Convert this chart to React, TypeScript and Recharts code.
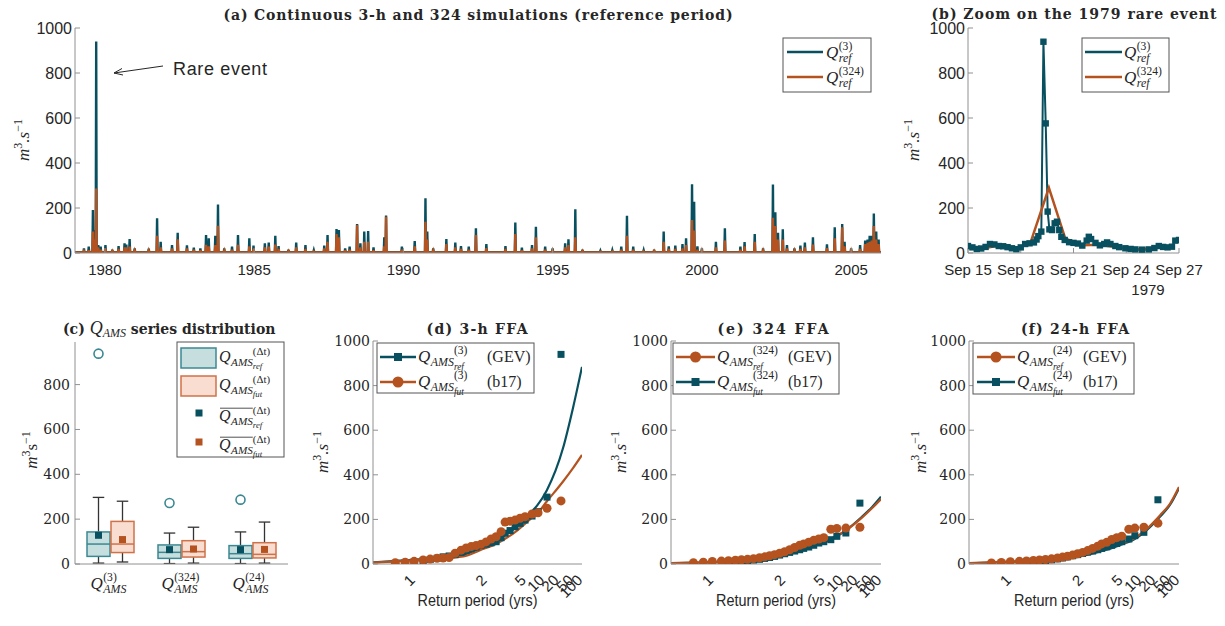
import React from 'react';
import { LineChart, Line, XAxis, YAxis, ComposedChart, Bar, Scatter } from 'recharts';

const TEAL = '#08505f';
const ORANGE = '#b4531f';
const TEAL_BOX = '#c7dedf';
const TEAL_EDGE = '#3b8893';
const ORANGE_BOX = '#f8ddd0';
const ORANGE_EDGE = '#cf7248';
const FRAME = '#909090';
const INK = '#262626';
const SANS = '"Liberation Sans", Arial, sans-serif';
const SERIF = '"DejaVu Serif", serif';
const MATH = '"Liberation Serif", "DejaVu Serif", serif';

// (a) continuous simulations: peaks (decimal year, m3/s)
const aEventYear = [
  1979.3, 1979.46, 1979.6, 1979.66, 1979.71, 1979.78, 1979.86,
  1980.02, 1980.25, 1980.46, 1980.66, 1980.72, 1980.83,
  1981.0, 1981.47, 1981.75, 1981.87,
  1982.25, 1982.44, 1982.75, 1982.98,
  1983.2, 1983.39, 1983.48, 1983.7, 1983.79,
  1984.0, 1984.26, 1984.46, 1984.84, 1984.98,
  1985.36, 1985.49, 1985.71, 1985.82,
  1986.15, 1986.41, 1986.72,
  1987.0, 1987.35, 1987.46, 1987.76, 1987.84,
  1988.05, 1988.2, 1988.45, 1988.56, 1988.69, 1988.82,
  1989.0, 1989.36, 1989.42, 1989.95,
  1990.38, 1990.74, 1990.8,
  1991.0, 1991.44, 1991.74, 1991.93,
  1992.19, 1992.43, 1992.78,
  1993.42, 1993.75, 1993.97,
  1994.31, 1994.44, 1994.75,
  1995.0, 1995.42, 1995.53, 1995.76,
  1996.0, 1996.6,
  1997.0, 1997.3, 1997.49, 1997.7,
  1998.05, 1998.4, 1998.72, 1998.89,
  1999.11, 1999.35, 1999.47, 1999.67, 1999.74, 1999.85,
  2000.0, 2000.47, 2000.77,
  2001.29, 2001.43, 2001.77,
  2002.05, 2002.38, 2002.46, 2002.55, 2002.71, 2002.85,
  2003.1, 2003.3, 2003.45, 2003.72,
  2004.19, 2004.45, 2004.7, 2004.78,
  2005.0, 2005.3, 2005.47, 2005.55, 2005.62, 2005.69, 2005.76, 2005.84, 2005.92,
];
const aPeak3 = [
  20, 28, 191, 102, 940, 35, 28,
  35, 15, 31, 43, 38, 62,
  20, 19, 154, 50,
  35, 90, 34, 24,
  20, 80, 65, 76, 216,
  20, 28, 80, 65, 33,
  43, 46, 77, 31,
  15, 46, 35,
  12, 33, 80, 107, 102,
  20, 28, 129, 43, 95, 98,
  25, 70, 167, 28,
  53, 243, 95,
  20, 62, 46, 31,
  28, 110, 40,
  31, 135, 24,
  35, 117, 28,
  20, 43, 61, 194,
  15, 10,
  12, 28, 166, 28,
  12, 15, 95, 30,
  33, 40, 65, 305, 228, 30,
  20, 50, 110,
  28, 49, 84,
  20, 304, 181, 90, 105, 35,
  20, 33, 46, 70,
  39, 114, 129, 50,
  20, 35, 55, 60, 76, 76, 176, 95, 60,
];
const aPeak324 = [
  8, 12, 95, 60, 287, 25, 15,
  20, 8, 18, 25, 25, 28,
  10, 10, 77, 25,
  20, 61, 20, 15,
  12, 36, 30, 35, 121,
  10, 15, 36, 30, 18,
  25, 28, 38, 18,
  8, 25, 18,
  6, 20, 50, 84, 70,
  12, 15, 124, 25, 50, 50,
  12, 30, 161, 15,
  30, 139, 60,
  10, 40, 25, 18,
  15, 80, 22,
  18, 84, 12,
  20, 70, 15,
  10, 25, 35, 70,
  8, 5,
  6, 15, 76, 15,
  6, 8, 50, 18,
  18, 20, 35, 147, 100, 15,
  10, 25, 55,
  15, 30, 50,
  10, 157, 120, 60, 60, 20,
  10, 18, 25, 38,
  22, 65, 114, 30,
  10, 18, 40, 45, 50, 55, 120, 60, 40,
];
const aBase3 = 4;
const aBase324 = 3;
const aYearTicks = [1980, 1985, 1990, 1995, 2000, 2005];
const qTicks = [0, 200, 400, 600, 800, 1000];

// (b) zoom on the September 1979 event (day of month)
const bDay3 = [
  15.0, 15.25, 15.5, 15.75, 16.0, 16.25, 16.5, 16.75, 17.0, 17.25, 17.5, 17.75, 18.0, 18.25, 18.5, 18.75,
  18.9, 19.0, 19.17, 19.29, 19.42, 19.53, 19.63, 19.78, 19.93, 20.06, 20.19, 20.31,
  20.5, 20.75, 21.0, 21.25, 21.5, 21.75, 21.87, 22.0, 22.25, 22.5, 22.75, 22.91,
  23.1, 23.38, 23.6, 23.95, 24.25, 24.52, 24.9, 25.28, 25.6, 25.85, 26.1, 26.35, 26.6, 26.79, 27.0,
];
const bQ3 = [
  31, 25, 18, 20, 27, 40, 38, 31, 30, 26, 21, 17, 25, 40, 43, 47,
  60, 75, 95, 939, 576, 184, 105, 102, 132, 139, 102, 72,
  58, 48, 45, 42, 33, 55, 72, 62, 45, 34, 40, 47,
  40, 31, 26, 21, 18, 16, 15, 16, 22, 31, 27, 25, 28, 55, 58,
];
const bDay324 = [15.61, 16.56, 17.6, 18.54, 19.6, 20.53, 21.49, 22.44, 23.38, 24.52, 25.47, 26.51];
const bQ324 = [16, 31, 16, 43, 290, 65, 34, 37, 27, 16, 21, 31];
const bDayTicks = [15, 18, 21, 24, 27];

// (c) Q_AMS box plot summaries
const boxGroups = ['(3)', '(324)', '(24)'];
const refLow = [4, 2, 2];
const refQ1 = [34, 25, 25];
const refMed = [89, 52, 46];
const refQ3 = [143, 85, 82];
const refHigh = [297, 138, 143];
const refOut = [938, 272, 287];
const refMean = [128, 64, 64];
const futLow = [9, 4, 4];
const futQ1 = [51, 31, 27];
const futMed = [89, 55, 43];
const futQ3 = [190, 104, 95];
const futHigh = [280, 164, 187];
const futMean = [109, 67, 65];
const boxTicks = [0, 200, 400, 600, 800];

// (d)-(f) frequency analysis: return periods (yrs) and discharges
const ffaTicks = [1, 2, 5, 10, 20, 50, 100];
const ffaTMin = 0.862;
const ffaTMax = 105;
const ffaPointT = [
  0.923, 0.96, 1.001, 1.051, 1.098, 1.152, 1.207, 1.271, 1.345, 1.432, 1.517, 1.614, 1.727, 1.859,
  2.014, 2.197, 2.414, 2.675, 2.923, 3.293, 3.749, 4.316, 5.031, 6.376, 7.997, 11.75, 24.3,
];
const ffaCurveT = [0.862, 0.93, 1.1, 1.47, 1.83, 2.46, 3.96, 5.94, 7.69, 11.6, 27.4, 52.6, 105];

const dRefPts = [2, 4, 8, 14, 20, 26, 32, 36, 42, 52, 60, 68, 76, 84, 89, 95, 100, 118, 138, 150, 167, 182, 197, 215, 235, 300, 940];
const dFutPts = [6, 8, 12, 18, 22, 26, 27, 29, 48, 62, 72, 78, 83, 89, 99, 112, 122, 145, 188, 192, 197, 205, 212, 224, 230, 250, 283];
const dRefGev = [7, 14, 25, 42, 70, 105, 170, 228, 262, 330, 520, 700, 884];
const dFutB17 = [7, 12, 22, 34, 62, 92, 150, 200, 225, 280, 370, 430, 489];

const eRefPts = [6, 8, 11, 13, 15, 17, 19, 21, 24, 28, 32, 37, 42, 48, 55, 64, 74, 84, 90, 98, 106, 112, 118, 156, 159, 161, 165];
const eFutPts = [1, 3, 5, 7, 9, 11, 13, 15, 18, 21, 25, 29, 34, 40, 46, 52, 58, 64, 70, 76, 84, 94, 100, 109, 124, 139, 273];
const eRefGev = [4, 7, 12, 26, 40, 62, 90, 110, 125, 150, 208, 250, 291];
const eFutB17 = [3, 5, 10, 22, 36, 56, 84, 106, 122, 150, 212, 255, 302];

const fRefPts = [5, 7, 10, 12, 14, 16, 18, 20, 23, 27, 31, 35, 40, 46, 52, 60, 70, 80, 90, 97, 110, 118, 125, 156, 161, 165, 183];
const fFutPts = [1, 3, 5, 7, 9, 11, 13, 16, 19, 23, 27, 32, 37, 42, 47, 53, 58, 64, 70, 77, 84, 92, 100, 112, 127, 142, 288];
const fRefGev = [4, 8, 15, 25, 34, 52, 79, 100, 114, 145, 218, 270, 345];
const fFutB17 = [3, 6, 12, 22, 31, 48, 74, 96, 110, 140, 212, 265, 340];

// probability-paper style axis used by the FFA panels
const ffaX = (T: number) => Math.log(Math.log(T) + 0.3);
const ffaT = (x: number) => Math.exp(Math.exp(x) - 0.3);

const measureCtx = typeof document !== 'undefined' ? document.createElement('canvas').getContext('2d') : null;
function textWidth(text: string, size: number, italic = true) {
  if (!measureCtx) return text.length * size * 0.5;
  measureCtx.font = `${italic ? 'italic ' : ''}${size}px ${MATH}`;
  return measureCtx.measureText(text).width;
}

function spikes(years: number[], peaks: number[], base: number) {
  const pts: { t: number; q: number }[] = [{ t: 1979, q: base }];
  years.forEach((yr, i) => {
    pts.push({ t: yr - 0.016, q: base }, { t: yr, q: peaks[i] }, { t: yr + 0.016, q: base });
  });
  pts.push({ t: 2006, q: base });
  return pts;
}

const sansTick = (size: number) => ({ fill: INK, fontSize: size, fontFamily: SANS });
const serifTick = { fill: INK, fontSize: 14, fontFamily: SERIF };

type MathProps = {
  x: number; y: number; fs?: number; sup?: string; sub?: string; subsub?: string;
  supAfterSub?: boolean; bar?: boolean;
};

function MathQ({ x, y, fs = 17, sup, sub, subsub, supAfterSub = false, bar = false }: MathProps) {
  const qW = textWidth('Q', fs) + 0.5;
  const subFs = fs * 0.7;
  const subsubFs = fs * 0.55;
  const supFs = fs * 0.68;
  const subW = sub ? textWidth(sub, subFs) : 0;
  const supX = x + qW + (supAfterSub ? subW : 0);
  return (
    <g fill={INK} fontFamily={MATH}>
      <text x={x} y={y} fontStyle="italic" fontSize={fs}>Q</text>
      {sub && <text x={x + qW} y={y + fs * 0.25} fontStyle="italic" fontSize={subFs}>{sub}</text>}
      {subsub && <text x={x + qW + subW} y={y + fs * 0.45} fontStyle="italic" fontSize={subsubFs}>{subsub}</text>}
      {sup && <text x={supX} y={y - fs * 0.45} fontSize={supFs}>{sup}</text>}
      {bar && <line x1={x + 1} x2={x + qW + subW} y1={y - fs * 0.8} y2={y - fs * 0.8} stroke={INK} strokeWidth={0.8} />}
    </g>
  );
}

function UnitLabel({ x, y, dot = true }: { x: number; y: number; dot?: boolean }) {
  return (
    <text transform={`translate(${x},${y}) rotate(-90)`} textAnchor="middle" fontFamily={MATH} fontSize={17} fill={INK}>
      <tspan fontStyle="italic">m</tspan>
      <tspan fontSize={12} dy={-7}>3</tspan>
      <tspan dy={7} fontStyle={dot ? 'italic' : 'normal'}>{dot ? '.s' : 's'}</tspan>
      <tspan fontSize={12} dy={-7}>−1</tspan>
    </text>
  );
}

function LegendSwatch({ x1, x2, y, color, marker }: { x1: number; x2: number; y: number; color: string; marker?: 'square' | 'circle' }) {
  const cx = (x1 + x2) / 2;
  return (
    <g>
      <line x1={x1} x2={x2} y1={y} y2={y} stroke={color} strokeWidth={2.5} />
      {marker === 'square' && <rect x={cx - 4} y={y - 4} width={8} height={8} fill={color} />}
      {marker === 'circle' && <circle cx={cx} cy={y} r={5.5} fill={color} />}
    </g>
  );
}

function PanelA() {
  const w = 806, h = 225;
  return (
    <div style={{ position: 'absolute', left: 75 - 60, top: 28 - 10 }}>
      <LineChart width={60 + w + 10} height={10 + h + 30} margin={{ top: 10, right: 10, bottom: 0, left: 0 }}>
        <XAxis dataKey="t" type="number" domain={[1979, 2006]} ticks={aYearTicks} allowDataOverflow interval={0}
          height={30} stroke={FRAME} tickSize={-5} tickMargin={16} tick={sansTick(15)} />
        <XAxis xAxisId="top" orientation="top" type="number" domain={[1979, 2006]} ticks={aYearTicks} allowDataOverflow
          interval={0} height={0} stroke={FRAME} tickSize={-5} tick={false} />
        <YAxis type="number" domain={[0, 1000]} ticks={qTicks} allowDataOverflow interval={0} width={60}
          stroke={FRAME} tickSize={-5} tickMargin={8} tick={sansTick(16)} />
        <YAxis yAxisId="right" orientation="right" type="number" domain={[0, 1000]} ticks={qTicks} allowDataOverflow
          interval={0} width={0} stroke={FRAME} tickSize={-5} tick={false} />
        <Line data={spikes(aEventYear, aPeak3, aBase3)} dataKey="q" stroke={TEAL} strokeWidth={2.4} dot={false} isAnimationActive={false} />
        <Line data={spikes(aEventYear, aPeak324, aBase324)} dataKey="q" stroke={ORANGE} strokeWidth={2.4} dot={false} isAnimationActive={false} />
      </LineChart>
    </div>
  );
}

function PanelB() {
  const w = 211, h = 225;
  const s3 = bDay3.map((t, i) => ({ t, q: bQ3[i] }));
  const s324 = bDay324.map((t, i) => ({ t, q: bQ324[i] }));
  return (
    <div style={{ position: 'absolute', left: 968 - 60, top: 28 - 10 }}>
      <LineChart width={60 + w + 30} height={10 + h + 30} margin={{ top: 10, right: 30, bottom: 0, left: 0 }}>
        <XAxis dataKey="t" type="number" domain={[15, 27]} ticks={bDayTicks} allowDataOverflow interval={0}
          height={30} stroke={FRAME} tickSize={-5} tickMargin={16} tick={sansTick(15)} tickFormatter={(v) => `Sep ${v}`} />
        <XAxis xAxisId="top" orientation="top" type="number" domain={[15, 27]} ticks={bDayTicks} allowDataOverflow
          interval={0} height={0} stroke={FRAME} tickSize={-4} tick={false} />
        <YAxis type="number" domain={[0, 1000]} ticks={qTicks} allowDataOverflow interval={0} width={60}
          stroke={FRAME} tickSize={-5} tickMargin={8} tick={sansTick(16)} />
        <YAxis yAxisId="right" orientation="right" type="number" domain={[0, 1000]} ticks={qTicks} allowDataOverflow
          interval={0} width={0} stroke={FRAME} tickSize={-5} tick={false} />
        <Line data={s3} dataKey="q" stroke={TEAL} strokeWidth={2} isAnimationActive={false}
          dot={(p: any) => <rect key={`b3-${p.index}`} x={p.cx - 3.2} y={p.cy - 3.2} width={6.4} height={6.4} fill={TEAL} />} />
        <Line data={s324} dataKey="q" stroke={ORANGE} strokeWidth={2.5} dot={false} isAnimationActive={false} />
      </LineChart>
    </div>
  );
}

function BoxShape(props: any) {
  const { x, y, width, height, payload, kind } = props;
  const i = payload.i;
  const ref = kind === 'ref';
  const lo = ref ? refLow[i] : futLow[i];
  const q1 = ref ? refQ1[i] : futQ1[i];
  const med = ref ? refMed[i] : futMed[i];
  const q3 = ref ? refQ3[i] : futQ3[i];
  const hi = ref ? refHigh[i] : futHigh[i];
  const top = Math.min(y, y + height);
  const bottom = Math.max(y, y + height);
  const py = (v: number) => bottom - ((bottom - top) * (v - lo)) / (hi - lo);
  const cx = x + width / 2;
  const cap = width / 4;
  const edge = ref ? TEAL_EDGE : ORANGE_EDGE;
  return (
    <g>
      <line x1={cx} x2={cx} y1={py(hi)} y2={py(q3)} stroke="#333" strokeWidth={1.3} />
      <line x1={cx} x2={cx} y1={py(q1)} y2={py(lo)} stroke="#333" strokeWidth={1.3} />
      <line x1={cx - cap} x2={cx + cap} y1={py(hi)} y2={py(hi)} stroke="#333" strokeWidth={1.3} />
      <line x1={cx - cap} x2={cx + cap} y1={py(lo)} y2={py(lo)} stroke="#333" strokeWidth={1.3} />
      <rect x={x} y={py(q3)} width={width} height={py(q1) - py(q3)} fill={ref ? TEAL_BOX : ORANGE_BOX} stroke={edge} strokeWidth={1.5} />
      <line x1={x} x2={x + width} y1={py(med)} y2={py(med)} stroke={edge} strokeWidth={1.5} />
    </g>
  );
}

function BoxTick({ x, y, payload }: any) {
  return <MathQ x={x - 20} y={y + 17} fs={17} sup={payload.value} sub="AMS" />;
}

function PanelC() {
  const w = 213, h = 222;
  const data = boxGroups.map((name, i) => ({
    name, i, ref: [refLow[i], refHigh[i]], fut: [futLow[i], futHigh[i]],
    refOut: refOut[i], refMean: refMean[i], futMean: futMean[i],
  }));
  const shift = 12;
  return (
    <div style={{ position: 'absolute', left: 75 - 60, top: 342 - 10 }}>
      <ComposedChart width={60 + w + 10} height={10 + h + 40} data={data} margin={{ top: 10, right: 10, bottom: 0, left: 0 }} barGap={1}>
        <XAxis dataKey="name" height={40} stroke={FRAME} tickLine={false} interval={0} tick={(p: any) => <BoxTick {...p} />} />
        <XAxis xAxisId="top" dataKey="name" orientation="top" height={0} stroke={FRAME} tickLine={false} tick={false} />
        <YAxis type="number" domain={[0, 990]} ticks={boxTicks} allowDataOverflow interval={0} width={60}
          stroke={FRAME} tickSize={-5} tickMargin={10} tick={serifTick} />
        <YAxis yAxisId="right" orientation="right" type="number" domain={[0, 990]} ticks={boxTicks} allowDataOverflow
          interval={0} width={0} stroke={FRAME} tickSize={-5} tick={false} />
        <Bar dataKey="ref" barSize={23} isAnimationActive={false} shape={(p: any) => <BoxShape {...p} kind="ref" />} />
        <Bar dataKey="fut" barSize={23} isAnimationActive={false} shape={(p: any) => <BoxShape {...p} kind="fut" />} />
        <Scatter dataKey="refOut" isAnimationActive={false}
          shape={(p: any) => <circle cx={p.cx - shift} cy={p.cy} r={4.5} fill="none" stroke={TEAL_EDGE} strokeWidth={1.6} />} />
        <Scatter dataKey="refMean" isAnimationActive={false}
          shape={(p: any) => <rect x={p.cx - shift - 3.5} y={p.cy - 3.5} width={7} height={7} fill={TEAL} />} />
        <Scatter dataKey="futMean" isAnimationActive={false}
          shape={(p: any) => <rect x={p.cx + shift - 3.5} y={p.cy - 3.5} width={7} height={7} fill={ORANGE} />} />
      </ComposedChart>
    </div>
  );
}

function RotTick({ x, y, payload }: any) {
  const label = Math.round(ffaT(payload.value));
  return (
    <text transform={`translate(${x + 2},${y + 17}) rotate(-45)`} textAnchor="end" fill={INK} fontSize={15} fontFamily={SANS}>
      {label}
    </text>
  );
}

type FfaProps = {
  left: number; width: number;
  tealCurve: number[]; orangeCurve: number[]; tealPts: number[]; orangePts: number[];
};

function FfaPanel({ left, width, tealCurve, orangeCurve, tealPts, orangePts }: FfaProps) {
  const h = 223;
  const xDomain = [ffaX(ffaTMin), ffaX(ffaTMax)];
  const mk = (Ts: number[], qs: number[]) => Ts.map((T, i) => ({ x: ffaX(T), q: qs[i] }));
  return (
    <div style={{ position: 'absolute', left: left - 60, top: 341 - 10 }}>
      <ComposedChart width={60 + width + 10} height={10 + h + 40} margin={{ top: 10, right: 10, bottom: 0, left: 0 }}>
        <XAxis dataKey="x" type="number" domain={xDomain} ticks={ffaTicks.map(ffaX)} allowDataOverflow interval={0}
          height={40} stroke={FRAME} tickLine={false} tickSize={0} tickMargin={0} tick={(p: any) => <RotTick {...p} />} />
        <XAxis xAxisId="top" orientation="top" type="number" domain={xDomain} allowDataOverflow height={0}
          stroke={FRAME} tickLine={false} tick={false} />
        <YAxis type="number" domain={[0, 1000]} ticks={qTicks} allowDataOverflow interval={0} width={60}
          stroke={FRAME} tickSize={-5} tickMargin={8} tick={serifTick} />
        <YAxis yAxisId="right" orientation="right" type="number" domain={[0, 1000]} ticks={qTicks} allowDataOverflow
          interval={0} width={0} stroke={FRAME} tickSize={-5} tick={false} />
        <Line data={mk(ffaCurveT, tealCurve)} dataKey="q" type="monotone" stroke={TEAL} strokeWidth={2.2} dot={false} isAnimationActive={false} />
        <Line data={mk(ffaCurveT, orangeCurve)} dataKey="q" type="monotone" stroke={ORANGE} strokeWidth={2.2} dot={false} isAnimationActive={false} />
        <Scatter data={mk(ffaPointT, tealPts)} dataKey="q" isAnimationActive={false}
          shape={(p: any) => <rect x={p.cx - 3.5} y={p.cy - 3.5} width={7} height={7} fill={TEAL} />} />
        <Scatter data={mk(ffaPointT, orangePts)} dataKey="q" isAnimationActive={false}
          shape={(p: any) => <circle cx={p.cx} cy={p.cy} r={4.5} fill={ORANGE} />} />
      </ComposedChart>
    </div>
  );
}

function Overlay() {
  const title = { fontFamily: SERIF, fontWeight: 'bold' as const, fontSize: 14, fill: INK };
  const box = { fill: '#fff', stroke: '#555', strokeWidth: 1 };
  return (
    <svg width={1225} height={626} style={{ position: 'absolute', left: 0, top: 0, pointerEvents: 'none' }}>
      {/* titles */}
      <text x={478} y={20} textAnchor="middle" textLength={509} lengthAdjust="spacing" {...title}>
        (a) Continuous 3-h and 324 simulations (reference period)
      </text>
      <text x={1074} y={19} textAnchor="middle" textLength={285} lengthAdjust="spacing" {...title}>
        (b) Zoom on the 1979 rare event
      </text>
      <text x={63} y={334} {...title}>
        (c){' '}
        <tspan fontFamily={MATH} fontStyle="italic" fontWeight="normal" fontSize={18}>Q</tspan>
        <tspan fontFamily={MATH} fontStyle="italic" fontWeight="normal" fontSize={12} dy={3}>AMS</tspan>
        <tspan dy={-3}> series distribution</tspan>
      </text>
      <text x={477} y={334} textAnchor="middle" textLength={101} lengthAdjust="spacing" {...title}>(d) 3-h FFA</text>
      <text x={773} y={334} textAnchor="middle" textLength={111} lengthAdjust="spacing" {...title}>(e) 324 FFA</text>
      <text x={1075} y={334} textAnchor="middle" textLength={108} lengthAdjust="spacing" {...title}>(f) 24-h FFA</text>

      {/* axis labels */}
      <UnitLabel x={29} y={140} />
      <UnitLabel x={919} y={140} />
      <UnitLabel x={37} y={450} dot={false} />
      <UnitLabel x={328} y={452} />
      <UnitLabel x={626} y={452} />
      <UnitLabel x={926} y={452} />
      {[477.5, 776, 1074].map((cx) => (
        <text key={cx} x={cx} y={606} textAnchor="middle" fontFamily={SANS} fontSize={17} fill={INK}
          textLength={120} lengthAdjust="spacingAndGlyphs">Return period (yrs)</text>
      ))}
      <text x={1148} y={295} textAnchor="middle" fontFamily={SANS} fontSize={15} fill={INK}>1979</text>

      {/* annotation */}
      <text x={173} y={75} fontFamily={SANS} fontSize={18} fill={INK} textLength={94} lengthAdjust="spacing">Rare event</text>
      <line x1={163} y1={66} x2={114} y2={73} stroke={INK} strokeWidth={1} />
      <path d="M 122 68.5 L 114 73 L 123 75" fill="none" stroke={INK} strokeWidth={1} />

      {/* legend (a) */}
      <rect x={783} y={38} width={88} height={54} {...box} />
      <LegendSwatch x1={787} x2={823} y={52} color={TEAL} />
      <LegendSwatch x1={787} x2={823} y={77} color={ORANGE} />
      <MathQ x={826} y={58} sup="(3)" sub="ref" />
      <MathQ x={826} y={83} sup="(324)" sub="ref" />

      {/* legend (b) */}
      <rect x={1082} y={38} width={87} height={54} {...box} />
      <LegendSwatch x1={1085} x2={1122} y={52} color={TEAL} />
      <LegendSwatch x1={1085} x2={1122} y={77} color={ORANGE} />
      <MathQ x={1124} y={58} sup="(3)" sub="ref" />
      <MathQ x={1124} y={83} sup="(324)" sub="ref" />

      {/* legend (c) */}
      <rect x={177} y={342} width={107} height={115} {...box} />
      <rect x={181} y={348} width={35} height={20} fill={TEAL_BOX} stroke={TEAL_EDGE} strokeWidth={1.5} />
      <rect x={181} y={376} width={35} height={20} fill={ORANGE_BOX} stroke={ORANGE_EDGE} strokeWidth={1.5} />
      <rect x={195.5} y={409.5} width={7} height={7} fill={TEAL} />
      <rect x={195.5} y={438.5} width={7} height={7} fill={ORANGE} />
      <MathQ x={219} y={362} fs={16} sub="AMS" subsub="ref" sup="(Δt)" supAfterSub />
      <MathQ x={219} y={390} fs={16} sub="AMS" subsub="fut" sup="(Δt)" supAfterSub />
      <MathQ x={219} y={421} fs={16} sub="AMS" subsub="ref" sup="(Δt)" supAfterSub bar />
      <MathQ x={219} y={450} fs={16} sub="AMS" subsub="fut" sup="(Δt)" supAfterSub bar />

      {/* legend (d) */}
      <rect x={377} y={343} width={157} height={50} {...box} />
      <LegendSwatch x1={380} x2={416} y={357} color={TEAL} marker="square" />
      <LegendSwatch x1={380} x2={416} y={382} color={ORANGE} marker="circle" />
      <MathQ x={418} y={362} sub="AMS" subsub="ref" sup="(3)" supAfterSub />
      <MathQ x={418} y={387} sub="AMS" subsub="fut" sup="(3)" supAfterSub />
      <text x={487} y={362} fontFamily={MATH} fontSize={16} fill={INK}>(GEV)</text>
      <text x={487} y={387} fontFamily={MATH} fontSize={16} fill={INK}>(b17)</text>

      {/* legend (e) */}
      <rect x={673} y={343} width={166} height={51} {...box} />
      <LegendSwatch x1={676} x2={715} y={357} color={ORANGE} marker="circle" />
      <LegendSwatch x1={676} x2={715} y={382} color={TEAL} marker="square" />
      <MathQ x={717} y={362} sub="AMS" subsub="ref" sup="(324)" supAfterSub />
      <MathQ x={717} y={387} sub="AMS" subsub="fut" sup="(324)" supAfterSub />
      <text x={788} y={362} fontFamily={MATH} fontSize={16} fill={INK}>(GEV)</text>
      <text x={788} y={387} fontFamily={MATH} fontSize={16} fill={INK}>(b17)</text>

      {/* legend (f) */}
      <rect x={973} y={343} width={161} height={51} {...box} />
      <LegendSwatch x1={977} x2={1015} y={357} color={ORANGE} marker="circle" />
      <LegendSwatch x1={977} x2={1015} y={382} color={TEAL} marker="square" />
      <MathQ x={1017} y={362} sub="AMS" subsub="ref" sup="(24)" supAfterSub />
      <MathQ x={1017} y={387} sub="AMS" subsub="fut" sup="(24)" supAfterSub />
      <text x={1083} y={362} fontFamily={MATH} fontSize={16} fill={INK}>(GEV)</text>
      <text x={1083} y={387} fontFamily={MATH} fontSize={16} fill={INK}>(b17)</text>
    </svg>
  );
}

export default function App() {
  return (
    <div style={{ position: 'absolute', left: 0, top: 0, width: 1225, height: 626, background: '#fff', overflow: 'hidden' }}>
      <PanelA />
      <PanelB />
      <PanelC />
      <FfaPanel left={373} width={209} tealCurve={dRefGev} orangeCurve={dFutB17} tealPts={dRefPts} orangePts={dFutPts} />
      <FfaPanel left={671} width={210} tealCurve={eFutB17} orangeCurve={eRefGev} tealPts={eFutPts} orangePts={eRefPts} />
      <FfaPanel left={969} width={210} tealCurve={fFutB17} orangeCurve={fRefGev} tealPts={fFutPts} orangePts={fRefPts} />
      <Overlay />
    </div>
  );
}
